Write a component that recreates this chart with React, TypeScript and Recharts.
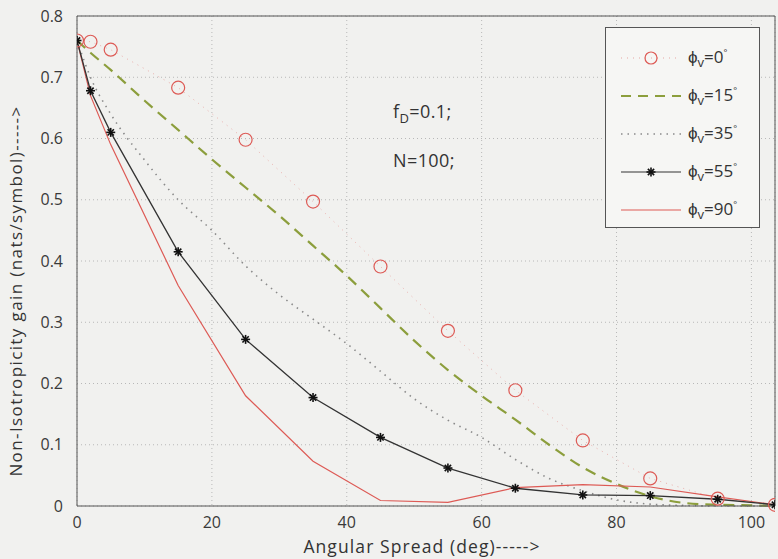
import React from "react";
import {
  CartesianGrid, Line, LineChart, ReferenceLine, XAxis, YAxis,
} from "recharts";

// angles where the marked curves were sampled
const X_MARKED = [0, 2, 5, 15, 25, 35, 45, 55, 65, 75, 85, 95, 103.5];
const PHI_0 = [0.76, 0.758, 0.745, 0.683, 0.598, 0.497, 0.391, 0.286, 0.189, 0.107, 0.045, 0.012, 0.002];
const PHI_55 = [0.76, 0.678, 0.61, 0.415, 0.272, 0.177, 0.112, 0.062, 0.029, 0.018, 0.017, 0.011, 0.002];
const PHI_90 = [0.76, 0.67, 0.59, 0.36, 0.18, 0.073, 0.009, 0.006, 0.03, 0.035, 0.031, 0.015, 0.002];

// finer sampling for the unmarked curves
const X_FINE = [0, 2, 5, 10, 15, 20, 25, 30, 35, 40, 45, 50, 55, 60, 65, 70, 75, 80, 85, 90, 95, 100, 103.5];
const PHI_15 = [0.76, 0.74, 0.712, 0.662, 0.614, 0.566, 0.52, 0.474, 0.425, 0.376, 0.323, 0.27, 0.222, 0.18, 0.141, 0.1, 0.063, 0.036, 0.016, 0.005, 0.002, 0.001, 0];
const PHI_35 = [0.76, 0.7, 0.64, 0.565, 0.5, 0.45, 0.392, 0.345, 0.305, 0.265, 0.22, 0.175, 0.14, 0.112, 0.076, 0.045, 0.025, 0.01, 0.003, 0.001, 0, 0, 0];

const X_TICKS = [0, 20, 40, 60, 80, 100];
const Y_TICKS = [0, 0.1, 0.2, 0.3, 0.4, 0.5, 0.6, 0.7, 0.8];
const LEGEND_ANGLES = ["0", "15", "35", "55", "90"];

const pts = (xs: number[], ys: number[]) => xs.map((x, i) => ({ x, y: ys[i] }));

const RED = "#dd5a55";
const GREEN = "#8c9e3c";
const GRAY = "#8a8a8a";
const DARK = "#333";
const FONT = "'Open Sans', sans-serif";

function Ring(props: any) {
  const { cx, cy } = props;
  if (cx == null || cy == null) return null;
  return <circle cx={cx} cy={cy} r={6.5} fill="none" stroke={RED} strokeWidth={1.2} />;
}

function Star(props: any) {
  const { cx, cy } = props;
  if (cx == null || cy == null) return null;
  const r = 4.5;
  const d = r * 0.7;
  return (
    <g stroke="#111" strokeWidth={1.6}>
      <line x1={cx - r} y1={cy} x2={cx + r} y2={cy} />
      <line x1={cx} y1={cy - r} x2={cx} y2={cy + r} />
      <line x1={cx - d} y1={cy - d} x2={cx + d} y2={cy + d} />
      <line x1={cx - d} y1={cy + d} x2={cx + d} y2={cy - d} />
    </g>
  );
}

function LegendSample({ i }: { i: number }) {
  const y = 9;
  if (i === 0)
    return (
      <svg width={64} height={18}>
        <line x1={2} y1={y} x2={62} y2={y} stroke="#e6a6a3" strokeDasharray="1 5" />
        <circle cx={32} cy={y} r={6} fill="none" stroke={RED} strokeWidth={1.2} />
      </svg>
    );
  if (i === 1)
    return (
      <svg width={64} height={18}>
        <line x1={2} y1={y} x2={62} y2={y} stroke={GREEN} strokeWidth={2} strokeDasharray="10 7" />
      </svg>
    );
  if (i === 2)
    return (
      <svg width={64} height={18}>
        <line x1={2} y1={y} x2={62} y2={y} stroke={GRAY} strokeWidth={1.5} strokeDasharray="1.5 5" />
      </svg>
    );
  if (i === 3)
    return (
      <svg width={64} height={18}>
        <line x1={2} y1={y} x2={62} y2={y} stroke={DARK} strokeWidth={1.2} />
        <Star cx={32} cy={y} />
      </svg>
    );
  return (
    <svg width={64} height={18}>
      <line x1={2} y1={y} x2={62} y2={y} stroke={RED} strokeWidth={1.2} />
    </svg>
  );
}

export default function App() {
  return (
    <div
      style={{
        position: "absolute", left: 0, top: 0, width: 778, height: 559,
        background: "#f1f1ef", fontFamily: FONT,
      }}
    >
      <LineChart width={778} height={559} margin={{ top: 16, right: 3, bottom: 0, left: 0 }}>
        <CartesianGrid stroke="#b8b8b8" strokeDasharray="1 3" />
        <XAxis
          dataKey="x"
          type="number"
          domain={[0, 103.5]}
          ticks={X_TICKS}
          height={53}
          tickLine={false}
          tickMargin={5}
          stroke="#555"
          tick={{ fill: "#3a3a3a", fontSize: 16, fontFamily: FONT }}
          allowDataOverflow
          label={{
            content: ({ viewBox }: any) => (
              <text x={viewBox.x + 345} y={viewBox.y + 47} textAnchor="middle" fill="#333" fontSize={17.5} letterSpacing={1.1} fontFamily={FONT}>
                Angular Spread (deg)-----&gt;
              </text>
            ),
          }}
        />
        <YAxis
          type="number"
          domain={[0, 0.8]}
          ticks={Y_TICKS}
          width={77}
          tickLine={false}
          tickMargin={8}
          stroke="#555"
          tick={{ fill: "#3a3a3a", fontSize: 16, fontFamily: FONT }}
          tickFormatter={(v: number) => (v === 0 ? "0" : String(Number(v.toFixed(1))))}
          label={{
            content: ({ viewBox }: any) => {
              const x = viewBox.x + 22;
              const y = 291;
              return (
                <text x={x} y={y} transform={`rotate(-90 ${x} ${y})`} textAnchor="middle" fill="#333" fontSize={17} letterSpacing={1.4} fontFamily={FONT}>
                  Non-Isotropicity gain (nats/symbol)-----&gt;
                </text>
              );
            },
          }}
        />
        <ReferenceLine y={0.8} stroke="#555" ifOverflow="visible" />
        <ReferenceLine x={103.5} stroke="#555" ifOverflow="visible" />

        <Line
          data={pts(X_MARKED, PHI_0)} dataKey="y" type="linear"
          stroke="#eab0ad" strokeWidth={1} strokeDasharray="1 5"
          dot={<Ring />} activeDot={false} isAnimationActive={false}
        />
        <Line
          data={pts(X_FINE, PHI_15)} dataKey="y" type="monotone"
          stroke={GREEN} strokeWidth={2.2} strokeDasharray="11 7"
          dot={false} activeDot={false} isAnimationActive={false}
        />
        <Line
          data={pts(X_FINE, PHI_35)} dataKey="y" type="monotone"
          stroke={GRAY} strokeWidth={1.6} strokeDasharray="1.5 5"
          dot={false} activeDot={false} isAnimationActive={false}
        />
        <Line
          data={pts(X_MARKED, PHI_90)} dataKey="y" type="linear"
          stroke={RED} strokeWidth={1.2}
          dot={false} activeDot={false} isAnimationActive={false}
        />
        <Line
          data={pts(X_MARKED, PHI_55)} dataKey="y" type="linear"
          stroke={DARK} strokeWidth={1.3}
          dot={<Star />} activeDot={false} isAnimationActive={false}
        />
      </LineChart>

      {/* annotation */}
      <div style={{ position: "absolute", left: 393, top: 88, fontSize: 18, color: "#333", lineHeight: "46px", letterSpacing: 0.4 }}>
        <div>f<sub style={{ fontSize: 13 }}>D</sub>=0.1;</div>
        <div style={{ marginTop: -4 }}>N=100;</div>
      </div>

      {/* legend */}
      <div
        style={{
          position: "absolute", left: 605, top: 27, width: 155, height: 201,
          border: "1px solid #555", background: "#f6f6f4", boxSizing: "border-box",
          paddingTop: 11,
        }}
      >
        {LEGEND_ANGLES.map((a, i) => (
          <div key={a} style={{ display: "flex", alignItems: "center", height: 38, marginLeft: 13 }}>
            <LegendSample i={i} />
            <span style={{ marginLeft: 5, fontSize: 17, color: "#333", whiteSpace: "nowrap", lineHeight: "20px" }}>
              ϕ<sub style={{ fontSize: 13 }}>v</sub>={a}<sup style={{ fontSize: 9 }}>°</sup>
            </span>
          </div>
        ))}
      </div>
    </div>
  );
}
